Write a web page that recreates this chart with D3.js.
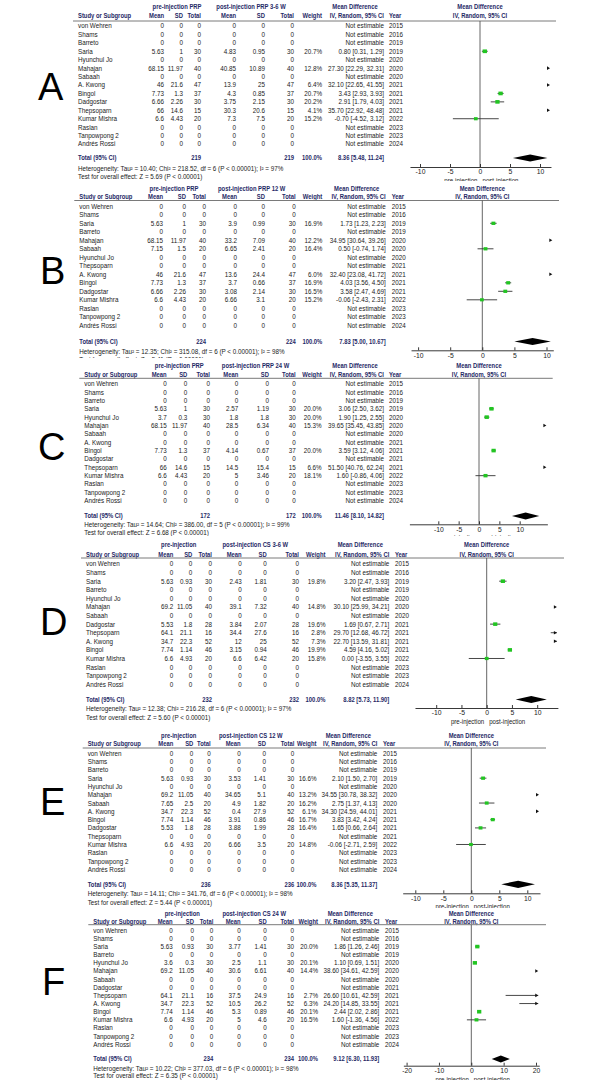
<!DOCTYPE html>
<html><head><meta charset="utf-8">
<script src="https://cdn.jsdelivr.net/npm/d3@7"></script>
<style>
body{margin:0;background:#fff}
svg{display:block}
text{font-family:"Liberation Sans",Arial,sans-serif}
</style>
</head><body>
<svg id="c" width="610" height="1080"></svg>
<script>
// ---------------- DATA ----------------
const studiesA = ["von Wehren","Shams","Barreto","Saria","Hyunchul Jo","Mahajan","Sabaah","A. Kwong","Bingol","Dadgostar","Thepsoparn","Kumar Mishra","Raslan","Tanpowpong 2","Andrés Rossi"];
const studiesB = ["von Wehren","Shams","Saria","Barreto","Mahajan","Sabaah","Hyunchul Jo","Thepsoparn","A. Kwong","Bingol","Dadgostar","Kumar Mishra","Raslan","Tanpowpong 2","Andrés Rossi"];
const studiesC = ["von Wehren","Shams","Barreto","Saria","Hyunchul Jo","Mahajan","Sabaah","A. Kwong","Bingol","Dadgostar","Thepsoparn","Kumar Mishra","Raslan","Tanpowpong 2","Andrés Rossi"];
const studiesD = ["von Wehren","Shams","Saria","Barreto","Hyunchul Jo","Mahajan","Sabaah","Dadgostar","Thepsoparn","A. Kwong","Bingol","Kumar Mishra","Raslan","Tanpowpong 2","Andrés Rossi"];
const studiesE = ["von Wehren","Shams","Barreto","Saria","Hyunchul Jo","Mahajan","Sabaah","A. Kwong","Bingol","Dadgostar","Thepsoparn","Kumar Mishra","Raslan","Tanpowpong 2","Andrés Rossi"];
const studiesF = ["von Wehren","Shams","Saria","Barreto","Hyunchul Jo","Mahajan","Sabaah","Dadgostar","Thepsoparn","A. Kwong","Bingol","Kumar Mishra","Raslan","Tanpowpong 2","Andrés Rossi"];
const years = [2015,2016,2019,2019,2020,2020,2020,2021,2021,2021,2021,2022,2023,2023,2024];

const Z0 = [0,0,0];
// [mean, SD, total]
const preA  = [Z0,Z0,Z0,[5.63,1,30],Z0,[68.15,11.97,40],Z0,[46,21.6,47],[7.73,1.3,37],[6.66,2.26,30],[66,14.6,15],[6.6,4.43,20],Z0,Z0,Z0];
const postA = [Z0,Z0,Z0,[4.83,0.95,30],Z0,[40.85,10.89,40],Z0,[13.9,25,47],[4.3,0.85,37],[3.75,2.15,30],[30.3,20.6,15],[7.3,7.5,20],Z0,Z0,Z0];
const weightA = [null,null,null,20.7,null,12.8,null,6.4,20.7,20.2,4.1,15.2,null,null,null];
const effectA = [null,null,null,[0.80,0.31,1.29],null,[27.30,22.29,32.31],null,[32.10,22.65,41.55],[3.43,2.93,3.93],[2.91,1.79,4.03],[35.70,22.92,48.48],[-0.70,-4.52,3.12],null,null,null];
const totalA = [219,219,8.36,5.48,11.24];
const hetA = "Heterogeneity: Tau² = 10.40; Chi² = 218.52, df = 6 (P < 0.00001); I² = 97%";
const testA = "Test for overall effect: Z = 5.69 (P < 0.00001)";

const preB  = [Z0,Z0,[5.63,1,30],Z0,[68.15,11.97,40],[7.15,1.5,20],Z0,Z0,[46,21.6,47],[7.73,1.3,37],[6.66,2.26,30],[6.6,4.43,20],Z0,Z0,Z0];
const postB = [Z0,Z0,[3.9,0.99,30],Z0,[33.2,7.09,40],[6.65,2.41,20],Z0,Z0,[13.6,24.4,47],[3.7,0.66,37],[3.08,2.14,30],[6.66,3.1,20],Z0,Z0,Z0];
const weightB = [null,null,16.9,null,12.2,16.4,null,null,6.0,16.9,16.5,15.2,null,null,null];
const effectB = [null,null,[1.73,1.23,2.23],null,[34.95,30.64,39.26],[0.50,-0.74,1.74],null,null,[32.40,23.08,41.72],[4.03,3.56,4.50],[3.58,2.47,4.69],[-0.06,-2.43,2.31],null,null,null];
const totalB = [224,224,7.83,5.00,10.67];
const hetB = "Heterogeneity: Tau² = 12.35; Chi² = 315.08, df = 6 (P < 0.00001); I² = 98%";
const testB = "Test for overall effect: Z = 5.41 (P < 0.00001)";

const preC  = [Z0,Z0,Z0,[5.63,1,30],[3.7,0.3,30],[68.15,11.97,40],Z0,Z0,[7.73,1.3,37],Z0,[66,14.6,15],[6.6,4.43,20],Z0,Z0,Z0];
const postC = [Z0,Z0,Z0,[2.57,1.19,30],[1.8,1.8,30],[28.5,6.34,40],Z0,Z0,[4.14,0.67,37],Z0,[14.5,15.4,15],[5,3.46,20],Z0,Z0,Z0];
const weightC = [null,null,null,20.0,20.0,15.3,null,null,20.0,null,6.6,18.1,null,null,null];
const effectC = [null,null,null,[3.06,2.50,3.62],[1.90,1.25,2.55],[39.65,35.45,43.85],null,null,[3.59,3.12,4.06],null,[51.50,40.76,62.24],[1.60,-0.86,4.06],null,null,null];
const totalC = [172,172,11.46,8.10,14.82];
const hetC = "Heterogeneity: Tau² = 14.64; Chi² = 386.00, df = 5 (P < 0.00001); I² = 99%";
const testC = "Test for overall effect: Z = 6.68 (P < 0.00001)";

const preD  = [Z0,Z0,[5.63,0.93,30],Z0,Z0,[69.2,11.05,40],Z0,[5.53,1.8,28],[64.1,21.1,16],[34.7,22.3,52],[7.74,1.14,46],[6.6,4.93,20],Z0,Z0,Z0];
const postD = [Z0,Z0,[2.43,1.81,30],Z0,Z0,[39.1,7.32,40],Z0,[3.84,2.07,28],[34.4,27.6,16],[12,25,52],[3.15,0.94,46],[6.6,6.42,20],Z0,Z0,Z0];
const weightD = [null,null,19.8,null,null,14.8,null,19.6,2.8,7.3,19.9,15.8,null,null,null];
const effectD = [null,null,[3.20,2.47,3.93],null,null,[30.10,25.99,34.21],null,[1.69,0.67,2.71],[29.70,12.68,46.72],[22.70,13.59,31.81],[4.59,4.16,5.02],[0.00,-3.55,3.55],null,null,null];
const totalD = [232,232,8.82,5.73,11.90];
const hetD = "Heterogeneity: Tau² = 12.38; Chi² = 216.28, df = 6 (P < 0.00001); I² = 97%";
const testD = "Test for overall effect: Z = 5.60 (P < 0.00001)";

const preE  = [Z0,Z0,Z0,[5.63,0.93,30],Z0,[69.2,11.05,40],[7.65,2.5,20],[34.7,22.3,52],[7.74,1.14,46],[5.53,1.8,28],Z0,[6.6,4.93,20],Z0,Z0,Z0];
const postE = [Z0,Z0,Z0,[3.53,1.41,30],Z0,[34.65,5.1,40],[4.9,1.82,20],[0.4,27.9,52],[3.91,0.86,46],[3.88,1.99,28],Z0,[6.66,3.5,20],Z0,Z0,Z0];
const weightE = [null,null,null,16.6,null,13.2,16.2,6.1,16.7,16.4,null,14.8,null,null,null];
const effectE = [null,null,null,[2.10,1.50,2.70],null,[34.55,30.78,38.32],[2.75,1.37,4.13],[34.30,24.59,44.01],[3.83,3.42,4.24],[1.65,0.66,2.64],null,[-0.06,-2.71,2.59],null,null,null];
const totalE = [236,236,8.36,5.35,11.37];
const hetE = "Heterogeneity: Tau² = 14.11; Chi² = 341.76, df = 6 (P < 0.00001); I² = 98%";
const testE = "Test for overall effect: Z = 5.44 (P < 0.00001)";

const preF  = [Z0,Z0,[5.63,0.93,30],Z0,[3.6,0.3,30],[69.2,11.05,40],Z0,Z0,[64.1,21.1,16],[34.7,22.3,52],[7.74,1.14,46],[6.6,4.93,20],Z0,Z0,Z0];
const postF = [Z0,Z0,[3.77,1.41,30],Z0,[2.5,1.1,30],[30.6,6.61,40],Z0,Z0,[37.5,24.9,16],[10.5,26.2,52],[5.3,0.89,46],[5,4.6,20],Z0,Z0,Z0];
const weightF = [null,null,20.0,null,20.1,14.4,null,null,2.7,6.3,20.1,16.5,null,null,null];
const effectF = [null,null,[1.86,1.26,2.46],null,[1.10,0.69,1.51],[38.60,34.61,42.59],null,null,[26.60,10.61,42.59],[24.20,14.85,33.55],[2.44,2.02,2.86],[1.60,-1.36,4.56],null,null,null];
const totalF = [234,234,9.12,6.30,11.93];
const hetF = "Heterogeneity: Tau² = 10.22; Chi² = 377.03, df = 6 (P < 0.00001); I² = 98%";
const testF = "Test for overall effect: Z = 6.35 (P < 0.00001)";

const ticks10 = [-10,-5,0,5,10];
const ticks20 = [-20,-10,0,10,20];

const panels = [
 {name:"A", studies:studiesA, pre:preA, post:postA, weight:weightA, effect:effectA, total:totalA, het:hetA, test:testA, preLabel:"pre-injection PRP", postLabel:"post-injection PRP 3-6 W", ticks:ticks10},
 {name:"B", studies:studiesB, pre:preB, post:postB, weight:weightB, effect:effectB, total:totalB, het:hetB, test:testB, preLabel:"pre-injection PRP", postLabel:"post-injection PRP 12 W", ticks:ticks10},
 {name:"C", studies:studiesC, pre:preC, post:postC, weight:weightC, effect:effectC, total:totalC, het:hetC, test:testC, preLabel:"pre-injection PRP", postLabel:"post-injection PRP 24 W", ticks:ticks10},
 {name:"D", studies:studiesD, pre:preD, post:postD, weight:weightD, effect:effectD, total:totalD, het:hetD, test:testD, preLabel:"pre-injection", postLabel:"post-injection CS 3-6 W", ticks:ticks10},
 {name:"E", studies:studiesE, pre:preE, post:postE, weight:weightE, effect:effectE, total:totalE, het:hetE, test:testE, preLabel:"pre-injection", postLabel:"post-injection CS 12 W", ticks:ticks10},
 {name:"F", studies:studiesF, pre:preF, post:postF, weight:weightF, effect:effectF, total:totalF, het:hetF, test:testF, preLabel:"pre-injection", postLabel:"post-injection CS 24 W", ticks:ticks20}
];

// ---------------- LAYOUT ----------------
const layout = {
 A:{top:0,bottom:181,h1:7,h2:16,line:21,r0:26,step:8.43,tot:158,het:168.5,test:177,axisY:167,label:78,preMean:164,preSD:183,preTot:201,postMean:236,postSD:265,postTot:294,weight:322,ci:384,year:389,zero:480,ppu:6,min:-11.67,max:11.83,lineRight:556,preHdr:177,postHdr:251,letter:[38,100]},
 B:{top:181,bottom:358,h1:188.3,h2:197,line:200.5,r0:206.3,step:8.5,tot:341.5,het:351.3,test:359.8,axisY:350.3,label:79.3,preMean:163,preSD:186,preTot:206,postMean:237,postSD:265,postTot:295.7,weight:322.3,ci:385.7,year:391.7,zero:482.3,ppu:6.42,min:-11.1,max:11.06,lineRight:559,preHdr:174,postHdr:251.7,letter:[40,284]},
 C:{top:358,bottom:536,h1:366,h2:374.7,line:378.3,r0:383.7,step:8.36,tot:516,het:524.3,test:532.7,axisY:524.3,label:84.3,preMean:166.7,preSD:187.3,preTot:210,postMean:238.3,postSD:269,postTot:295.7,weight:321.7,ci:384,year:389,zero:479,ppu:4.07,min:-17.1,max:16.8,lineRight:552.7,preHdr:179.3,postHdr:255.5,letter:[38,460]},
 D:{top:536,bottom:727,h1:544.7,h2:554.3,line:558,r0:564,step:8.59,tot:699.5,het:709,test:718,axisY:708,label:86,preMean:173.3,preSD:192.3,preTot:212,postMean:241.7,postSD:266.7,postTot:299,weight:325.5,ci:389.3,year:395,zero:486.7,ppu:5.05,min:-14.2,max:14.1,lineRight:564,preHdr:178.7,postHdr:255.3,letter:[40,635]},
 E:{top:727,bottom:908,h1:735.7,h2:744,line:748,r0:753.3,step:8.29,tot:884.3,het:894,test:902.5,axisY:893.3,label:87.7,preMean:173.3,preSD:193.3,preTot:210.7,postMean:240.7,postSD:266,postTot:294.3,weight:316.5,ci:377.3,year:383,zero:471.3,ppu:5.6,min:-12.25,max:12.27,lineRight:546,preHdr:178.7,postHdr:250.8,letter:[40,815]},
 F:{top:908,bottom:1080,h1:913.3,h2:921.3,line:924.7,r0:930.3,step:8.14,tot:1059,het:1068.3,test:1076,axisY:1065.7,label:93.3,preMean:172.7,preSD:194,preTot:213.3,postMean:240.7,postSD:266.7,postTot:294,weight:318,ci:379.3,year:385,zero:471.3,ppu:3.235,min:-21,max:21,lineRight:546,preHdr:182.3,postHdr:254.2,letter:[42,995]}
};

const FS = 7, SX = 0.9, SXB = 0.84;
const HDR = "#1f2a66", BODY = "#1a1a1a";

const svg = d3.select("#c");
svg.append("rect").attr("width",610).attr("height",1080).attr("fill","#fff");
const defs = svg.append("defs");

let curBottom = 1080;
function T(g, x, y, s, anchor, bold, color, size){
  if (y - 2 > curBottom) return null;   // fully hidden under the next panel
  return g.append("text")
    .attr("transform", `translate(${x},${y}) scale(${bold ? SXB : SX},1)`)
    .attr("text-anchor", anchor || "start")
    .attr("dy", "0.35em")
    .style("font-size", (size||FS)+"px")
    .style("font-weight", bold ? "bold" : "normal")
    .attr("fill", color || BODY)
    .text(s);
}
const fmt2 = v => v.toFixed(2);

panels.forEach(P => {
  const L = layout[P.name];
  curBottom = L.bottom;
  defs.append("clipPath").attr("id","clip"+P.name)
    .append("rect").attr("x",0).attr("y",L.top).attr("width",610).attr("height",L.bottom-L.top);
  const g = svg.append("g").attr("clip-path",`url(#clip${P.name})`);

  // headers
  T(g, L.preHdr, L.h1, P.preLabel, "middle", true, HDR);
  T(g, L.postHdr, L.h1, P.postLabel, "middle", true, HDR);
  T(g, L.ci-29, L.h1, "Mean Difference", "middle", true, HDR);
  T(g, L.zero, L.h1, "Mean Difference", "middle", true, HDR);
  T(g, L.label, L.h2, "Study or Subgroup", "start", true, HDR);
  T(g, L.preMean, L.h2, "Mean", "end", true, HDR);
  T(g, L.preSD, L.h2, "SD", "end", true, HDR);
  T(g, L.preTot, L.h2, "Total", "end", true, HDR);
  T(g, L.postMean, L.h2, "Mean", "end", true, HDR);
  T(g, L.postSD, L.h2, "SD", "end", true, HDR);
  T(g, L.postTot, L.h2, "Total", "end", true, HDR);
  T(g, L.weight, L.h2, "Weight", "end", true, HDR);
  T(g, L.ci, L.h2, "IV, Random, 95% CI", "end", true, HDR);
  T(g, L.year, L.h2, "Year", "start", true, HDR);
  T(g, L.zero, L.h2, "IV, Random, 95% CI", "middle", true, HDR);
  g.append("line").attr("x1",L.label-5).attr("x2",L.lineRight).attr("y1",L.line).attr("y2",L.line)
    .attr("stroke","#7a7a7a").attr("stroke-width",1);

  const x = d3.scaleLinear().domain([L.min, L.max]).range([L.zero + L.min*L.ppu, L.zero + L.max*L.ppu]);
  const y = i => L.r0 + i*L.step;

  // zero line
  g.append("line").attr("x1",x(0)).attr("x2",x(0)).attr("y1",L.line).attr("y2",L.axisY)
    .attr("stroke","#555").attr("stroke-width",0.9);

  // rows
  P.studies.forEach((name,i) => {
    const yy = y(i);
    T(g, L.label, yy, name, "start");
    T(g, L.preMean, yy, String(P.pre[i][0]), "end");
    T(g, L.preSD, yy, String(P.pre[i][1]), "end");
    T(g, L.preTot, yy, String(P.pre[i][2]), "end");
    T(g, L.postMean, yy, String(P.post[i][0]), "end");
    T(g, L.postSD, yy, String(P.post[i][1]), "end");
    T(g, L.postTot, yy, String(P.post[i][2]), "end");
    if (P.weight[i] != null) T(g, L.weight, yy, P.weight[i].toFixed(1)+"%", "end");
    const e = P.effect[i];
    T(g, L.ci, yy, e ? `${fmt2(e[0])} [${fmt2(e[1])}, ${fmt2(e[2])}]` : "Not estimable", "end");
    T(g, L.year, yy, String(years[i]), "start");
    if (e) {
      const [md, lo, hi] = e;
      const xmax = x(L.max) - 1;
      const arrow = () => g.append("path")
        .attr("d", d3.line()([[xmax, yy],[xmax-3, yy-1.8],[xmax-3, yy+1.8]]) + "Z").attr("fill","#111");
      if (lo >= L.max) {
        arrow();
      } else {
        const a = x(Math.max(lo, L.min)), b = hi > L.max ? xmax : x(hi);
        g.append("line").attr("x1",a).attr("x2",b).attr("y1",yy).attr("y2",yy).attr("stroke","#333").attr("stroke-width",0.9);
        if (hi > L.max) arrow();
        if (md <= L.max && md >= L.min) {
          const s = 0.95*Math.sqrt(P.weight[i]);
          g.append("rect").attr("x", x(md)-s/2).attr("y", yy-s/2*0.85).attr("width", s).attr("height", s*0.85)
            .attr("fill","#22c522");
        }
      }
    }
  });

  // total row
  const t = P.total;
  T(g, L.label, L.tot, "Total (95% CI)", "start", true, HDR);
  T(g, L.preTot, L.tot, String(t[0]), "end", true, HDR);
  T(g, L.postTot, L.tot, String(t[1]), "end", true, HDR);
  T(g, L.weight, L.tot, "100.0%", "end", true, HDR);
  T(g, L.ci, L.tot, `${fmt2(t[2])} [${fmt2(t[3])}, ${fmt2(t[4])}]`, "end", true, HDR);
  g.append("path").attr("d", d3.line()([[x(t[3]),L.tot],[x(t[2]),L.tot-3.6],[x(t[4]),L.tot],[x(t[2]),L.tot+3.6]]) + "Z")
    .attr("fill","#000");

  T(g, L.label, L.het, P.het, "start");
  T(g, L.label, L.test, P.test, "start");

  // axis
  const ax = g.append("g").attr("transform",`translate(0,${L.axisY})`)
    .call(d3.axisBottom(x).tickValues(P.ticks).tickSizeInner(-3).tickSizeOuter(0).tickPadding(2.5).tickFormat(d => String(d)));
  ax.select(".domain").attr("stroke","#222").attr("stroke-width",0.9);
  ax.selectAll(".tick line").attr("stroke","#222").attr("stroke-width",0.9);
  ax.selectAll(".tick text").attr("fill","#222").style("font-size","6.8px")
    .style("font-family",'"Liberation Sans",Arial,sans-serif');
  T(g, x(0)-2.5, L.axisY+13.5, "pre-injection", "end", false, "#222", 6.8);
  T(g, x(0)+2.5, L.axisY+13.5, "post-injection", "start", false, "#222", 6.8);

  // panel letter
  svg.append("text").attr("x", L.letter[0]).attr("y", L.letter[1])
    .style("font-size","38px").attr("fill","#000").text(P.name);
});
</script>
</body></html>
